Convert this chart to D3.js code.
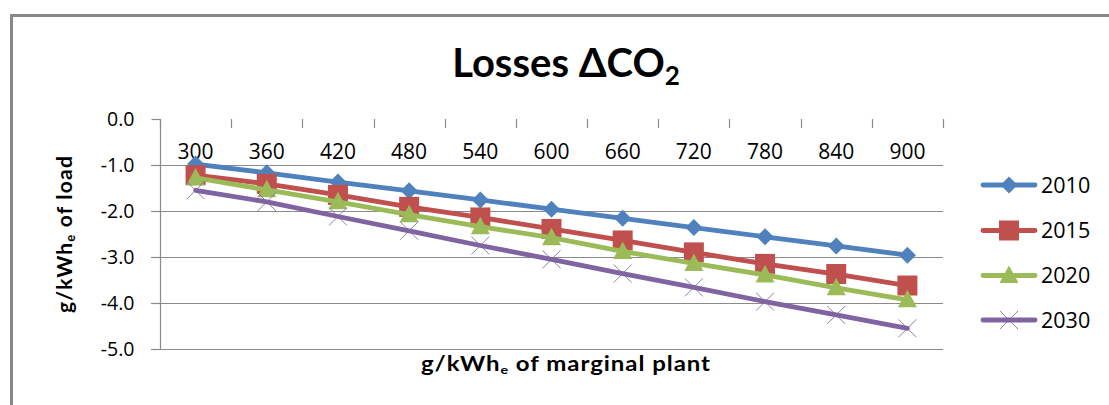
<!DOCTYPE html>
<html>
<head>
<meta charset="utf-8">
<script src="https://cdn.jsdelivr.net/npm/d3@7"></script>
<style>
  html, body { margin: 0; padding: 0; background: #fff; }
  svg { display: block; }
</style>
</head>
<body>
<svg id="chart" width="1109" height="405"></svg>
<script>
// Marginal plant emission factor (g/kWh_e) on the category axis
const categories = [300, 360, 420, 480, 540, 600, 660, 720, 780, 840, 900];

// Loss-related CO2 change per kWh_e of load, one array per scenario year
const years = ["2010", "2015", "2020", "2030"];
const values2010 = [-0.98, -1.17, -1.37, -1.56, -1.76, -1.96, -2.16, -2.36, -2.56, -2.76, -2.96];
const values2015 = [-1.22, -1.41, -1.65, -1.91, -2.14, -2.39, -2.64, -2.90, -3.15, -3.37, -3.62];
const values2020 = [-1.28, -1.54, -1.80, -2.08, -2.34, -2.58, -2.88, -3.14, -3.39, -3.67, -3.93];
const values2030 = [-1.55, -1.80, -2.12, -2.43, -2.75, -3.05, -3.36, -3.66, -3.97, -4.26, -4.55];

// Value axis ticks
const yTicks = [0, -1, -2, -3, -4, -5];

const seriesValues = [values2010, values2015, values2020, values2030];
const colors = ["#4F81BD", "#C0504D", "#9BBB59", "#8064A2"];
const markerKinds = ["diamond", "square", "triangle", "cross"];

const numFont = "Open Sans";
const titleFont = "Lato";

const svg = d3.select("#chart");

// Outer chart frame
svg.append("rect")
  .attr("x", 11.5).attr("y", 15.5)
  .attr("width", 1109).attr("height", 420)
  .attr("fill", "none").attr("stroke", "#888888").attr("stroke-width", 3);

const plot = { left: 160, right: 943, top: 119, bottom: 349 };

const x = d3.scaleBand().domain(categories).range([plot.left, plot.right]).padding(0);
const y = d3.scaleLinear().domain([-5, 0]).range([plot.bottom, plot.top]);

const gridColor = "#8a8a8a";

// Horizontal gridlines (with outside ticks on the value axis)
svg.append("g")
  .selectAll("line")
  .data(yTicks.filter(d => d !== 0))
  .join("line")
  .attr("x1", plot.left - 9).attr("x2", plot.right)
  .attr("y1", d => Math.round(y(d)) + 0.5).attr("y2", d => Math.round(y(d)) + 0.5)
  .attr("stroke", gridColor).attr("stroke-width", 1.2);

// Value axis
const yAxis = d3.axisLeft(y).tickValues(yTicks).tickSize(9).tickPadding(17)
  .tickFormat(d3.format(".1f"));
const yg = svg.append("g").attr("transform", `translate(${plot.left + 0.5},0)`).call(yAxis);
yg.select(".domain").attr("stroke", gridColor).attr("stroke-width", 1.2)
  .attr("d", `M0,${plot.top}V${plot.bottom}`);
yg.selectAll(".tick line").attr("stroke", gridColor).attr("stroke-width", 1.2);
yg.selectAll(".tick text")
  .attr("font-family", numFont).attr("font-size", 19.5).attr("fill", "#000")
  .text(d => d === 0 ? "0.0" : d3.format(".1f")(d).replace("−", "-"));

// Category axis at zero (line hidden, ticks between categories, labels under the ticks)
const boundaries = categories.map(c => x(c)).concat([plot.right]);
svg.append("g")
  .selectAll("line")
  .data(boundaries)
  .join("line")
  .attr("x1", d => Math.round(d) + 0.5).attr("x2", d => Math.round(d) + 0.5)
  .attr("y1", plot.top).attr("y2", plot.top + 9)
  .attr("stroke", gridColor).attr("stroke-width", 1.2);

svg.append("g")
  .selectAll("text")
  .data(categories)
  .join("text")
  .attr("x", d => x(d) + x.bandwidth() / 2)
  .attr("y", 159)
  .attr("text-anchor", "middle")
  .attr("font-family", numFont).attr("font-size", 21).attr("fill", "#000")
  .text(d => d);

// Marker shapes
function markerPath(kind) {
  switch (kind) {
    case "diamond": return "M0,-8.5L8.5,0L0,8.5L-8.5,0Z";
    case "square": return "M-10,-10H10V10H-10Z";
    case "triangle": return "M0,-10L9.5,7.5L-9.5,7.5Z";
    case "cross": return "M-9,-9L9,9M-9,9L9,-9";
  }
}

function drawMarker(g, kind, color) {
  if (kind === "cross") {
    g.append("path").attr("d", markerPath(kind))
      .attr("fill", "none").attr("stroke", color).attr("stroke-width", 1).attr("opacity", 0.85);
  } else {
    g.append("path").attr("d", markerPath(kind)).attr("fill", color);
  }
}

const line = d3.line()
  .x((d, i) => x(categories[i]) + x.bandwidth() / 2)
  .y(d => y(d));

// Series: line then markers, later series drawn on top
seriesValues.forEach((vals, si) => {
  const g = svg.append("g");
  g.append("path")
    .attr("d", line(vals))
    .attr("fill", "none")
    .attr("stroke", colors[si])
    .attr("stroke-width", 4.8)
    .attr("stroke-linejoin", "round")
    .attr("stroke-linecap", "round");
  vals.forEach((v, i) => {
    const mg = g.append("g")
      .attr("transform", `translate(${x(categories[i]) + x.bandwidth() / 2},${y(v)})`);
    drawMarker(mg, markerKinds[si], colors[si]);
  });
});

// Legend
const legendRows = [185, 230.5, 275.5, 320];
years.forEach((yr, si) => {
  const g = svg.append("g").attr("transform", `translate(0,${legendRows[si]})`);
  g.append("line").attr("x1", 983).attr("x2", 1035).attr("y1", 0).attr("y2", 0)
    .attr("stroke", colors[si]).attr("stroke-width", 4.8).attr("stroke-linecap", "round");
  const mg = g.append("g").attr("transform", "translate(1009,0)");
  drawMarker(mg, markerKinds[si], colors[si]);
  g.append("text").attr("x", 1041).attr("y", 7.5)
    .attr("font-family", numFont).attr("font-size", 21.5).attr("fill", "#000")
    .text(yr);
});

// Chart title
const title = svg.append("text")
  .attr("x", 566).attr("y", 77)
  .attr("text-anchor", "middle")
  .attr("font-family", titleFont).attr("font-weight", "bold")
  .attr("font-size", 40).attr("fill", "#000");
title.append("tspan").text("Losses ΔCO");
title.append("tspan").attr("font-size", 26).attr("dy", 8).text("2");

// Category axis title (slightly widened lettering)
const xTitle = svg.append("text")
  .attr("transform", "translate(566,371) scale(1.2,1)")
  .attr("text-anchor", "middle")
  .attr("font-family", titleFont).attr("font-weight", "bold")
  .attr("font-size", 20).attr("letter-spacing", 0.8).attr("fill", "#000");
xTitle.append("tspan").text("g/kWh");
xTitle.append("tspan").attr("font-size", 12).attr("dy", 3).text("e");
xTitle.append("tspan").attr("dy", -3).text(" of marginal plant");

// Value axis title
const yTitle = svg.append("text")
  .attr("transform", "translate(72,234) rotate(-90)")
  .attr("text-anchor", "middle")
  .attr("font-family", titleFont).attr("font-weight", "bold")
  .attr("font-size", 21).attr("letter-spacing", 1.2).attr("fill", "#000");
yTitle.append("tspan").text("g/kWh");
yTitle.append("tspan").attr("font-size", 13).attr("dy", 3).text("e");
yTitle.append("tspan").attr("dy", -3).text(" of load");
</script>
</body>
</html>
